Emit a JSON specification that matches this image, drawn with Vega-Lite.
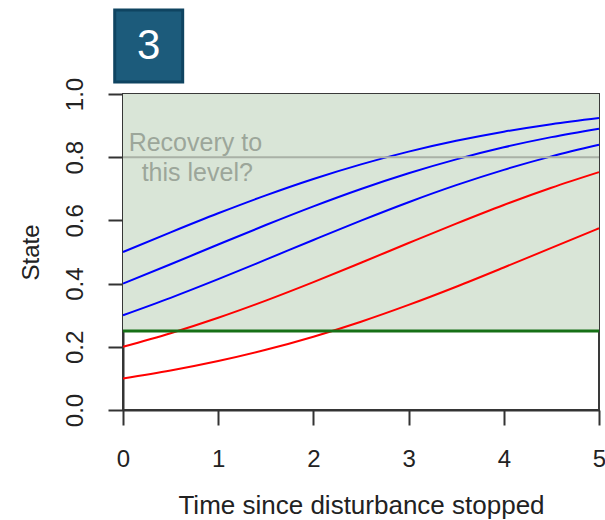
{
  "$schema": "https://vega.github.io/schema/vega-lite/v6.json",
  "width": 476,
  "height": 316,
  "autosize": {"type": "none"},
  "padding": {"left": 123, "top": 94, "right": 6, "bottom": 110},
  "background": "#ffffff",
  "config": {
    "font": "Liberation Sans",
    "view": {"stroke": "#3a3a3a", "strokeWidth": 2},
    "axis": {
      "grid": false,
      "domainColor": "#333333",
      "domainWidth": 2,
      "tickColor": "#333333",
      "tickWidth": 2,
      "tickSize": 15,
      "labelFont": "Liberation Sans",
      "labelFontSize": 24,
      "labelColor": "#222222",
      "titleFont": "Liberation Sans",
      "titleFontSize": 26,
      "titleFontWeight": "normal",
      "titleColor": "#222222"
    }
  },
  "datasets": {
    "trajectories": [
      {"t": 0, "state": 0.5, "path": "p50", "side": "above"},
      {"t": 0.5, "state": 0.5622, "path": "p50", "side": "above"},
      {"t": 1, "state": 0.6225, "path": "p50", "side": "above"},
      {"t": 1.5, "state": 0.6792, "path": "p50", "side": "above"},
      {"t": 2, "state": 0.7311, "path": "p50", "side": "above"},
      {"t": 2.5, "state": 0.7773, "path": "p50", "side": "above"},
      {"t": 3, "state": 0.8176, "path": "p50", "side": "above"},
      {"t": 3.5, "state": 0.8519, "path": "p50", "side": "above"},
      {"t": 4, "state": 0.8808, "path": "p50", "side": "above"},
      {"t": 4.5, "state": 0.9046, "path": "p50", "side": "above"},
      {"t": 5, "state": 0.9241, "path": "p50", "side": "above"},
      {"t": 0, "state": 0.4, "path": "p40", "side": "above"},
      {"t": 0.5, "state": 0.4612, "path": "p40", "side": "above"},
      {"t": 1, "state": 0.5236, "path": "p40", "side": "above"},
      {"t": 1.5, "state": 0.5853, "path": "p40", "side": "above"},
      {"t": 2, "state": 0.6444, "path": "p40", "side": "above"},
      {"t": 2.5, "state": 0.6994, "path": "p40", "side": "above"},
      {"t": 3, "state": 0.7492, "path": "p40", "side": "above"},
      {"t": 3.5, "state": 0.7932, "path": "p40", "side": "above"},
      {"t": 4, "state": 0.8313, "path": "p40", "side": "above"},
      {"t": 4.5, "state": 0.8635, "path": "p40", "side": "above"},
      {"t": 5, "state": 0.8903, "path": "p40", "side": "above"},
      {"t": 0, "state": 0.3, "path": "p30", "side": "above"},
      {"t": 0.5, "state": 0.355, "path": "p30", "side": "above"},
      {"t": 1, "state": 0.414, "path": "p30", "side": "above"},
      {"t": 1.5, "state": 0.4757, "path": "p30", "side": "above"},
      {"t": 2, "state": 0.5381, "path": "p30", "side": "above"},
      {"t": 2.5, "state": 0.5993, "path": "p30", "side": "above"},
      {"t": 3, "state": 0.6576, "path": "p30", "side": "above"},
      {"t": 3.5, "state": 0.7115, "path": "p30", "side": "above"},
      {"t": 4, "state": 0.76, "path": "p30", "side": "above"},
      {"t": 4.5, "state": 0.8026, "path": "p30", "side": "above"},
      {"t": 5, "state": 0.8392, "path": "p30", "side": "above"},
      {"t": 0, "state": 0.2, "path": "p20", "side": "below"},
      {"t": 0.5, "state": 0.243, "path": "p20", "side": "below"},
      {"t": 1, "state": 0.2919, "path": "p20", "side": "below"},
      {"t": 1.5, "state": 0.3461, "path": "p20", "side": "below"},
      {"t": 2, "state": 0.4046, "path": "p20", "side": "below"},
      {"t": 2.5, "state": 0.466, "path": "p20", "side": "below"},
      {"t": 3, "state": 0.5284, "path": "p20", "side": "below"},
      {"t": 3.5, "state": 0.5899, "path": "p20", "side": "below"},
      {"t": 4, "state": 0.6489, "path": "p20", "side": "below"},
      {"t": 4.5, "state": 0.7034, "path": "p20", "side": "below"},
      {"t": 5, "state": 0.7528, "path": "p20", "side": "below"},
      {"t": 0, "state": 0.1, "path": "p10", "side": "below"},
      {"t": 0.5, "state": 0.1249, "path": "p10", "side": "below"},
      {"t": 1, "state": 0.1548, "path": "p10", "side": "below"},
      {"t": 1.5, "state": 0.1904, "path": "p10", "side": "below"},
      {"t": 2, "state": 0.232, "path": "p10", "side": "below"},
      {"t": 2.5, "state": 0.2794, "path": "p10", "side": "below"},
      {"t": 3, "state": 0.3325, "path": "p10", "side": "below"},
      {"t": 3.5, "state": 0.39, "path": "p10", "side": "below"},
      {"t": 4, "state": 0.4509, "path": "p10", "side": "below"},
      {"t": 4.5, "state": 0.5132, "path": "p10", "side": "below"},
      {"t": 5, "state": 0.5751, "path": "p10", "side": "below"}
    ],
    "notes": [
      {"label": "Recovery to", "t": 0.76, "state": 0.845},
      {"label": "this level?", "t": 0.78, "state": 0.75}
    ]
  },
  "layer": [
    {
      "data": {"values": [{}]},
      "mark": {"type": "rect", "color": "#d9e5d7"},
      "encoding": {
        "x": {"datum": 0, "type": "quantitative"},
        "x2": {"datum": 5},
        "y": {"datum": 0.25, "type": "quantitative"},
        "y2": {"datum": 1}
      }
    },
    {
      "data": {"name": "trajectories"},
      "mark": {"type": "line", "strokeWidth": 2, "interpolate": "monotone"},
      "encoding": {
        "x": {
          "field": "t",
          "type": "quantitative",
          "scale": {"domain": [0, 5], "nice": false, "zero": false},
          "axis": {
            "title": "Time since disturbance stopped",
            "values": [0, 1, 2, 3, 4, 5],
            "format": "d",
            "labelPadding": 22,
            "titlePadding": 21,
            "labelFlush": false
          }
        },
        "y": {
          "field": "state",
          "type": "quantitative",
          "scale": {"domain": [0, 1], "nice": false},
          "axis": {
            "title": "State",
            "values": [0, 0.2, 0.4, 0.6, 0.8, 1],
            "format": ".1f",
            "labelAngle": 270,
            "labelAlign": "center",
            "labelBaseline": "alphabetic",
            "labelPadding": 26,
            "labelFlush": false,
            "titleFontSize": 24,
            "titlePadding": 20
          }
        },
        "detail": {"field": "path"},
        "color": {
          "field": "side",
          "type": "nominal",
          "scale": {"domain": ["above", "below"], "range": ["#0000ff", "#ff0000"]},
          "legend": null
        }
      }
    },
    {
      "data": {"values": [{}]},
      "mark": {"type": "rule", "color": "#a9b1a6", "strokeWidth": 2},
      "encoding": {"y": {"datum": 0.8, "type": "quantitative"}}
    },
    {
      "data": {"values": [{}]},
      "mark": {"type": "rule", "color": "#167016", "strokeWidth": 3},
      "encoding": {"y": {"datum": 0.25, "type": "quantitative"}}
    },
    {
      "data": {"name": "notes"},
      "mark": {"type": "text", "fontSize": 25, "color": "#9ca69a", "baseline": "middle", "align": "center"},
      "encoding": {
        "x": {"field": "t", "type": "quantitative"},
        "y": {"field": "state", "type": "quantitative"},
        "text": {"field": "label"}
      }
    },
    {
      "data": {"values": [{}]},
      "mark": {"type": "rect", "fill": "#1c5b7b", "stroke": "#0f4461", "strokeWidth": 3, "clip": false},
      "encoding": {
        "x": {"datum": -0.087, "type": "quantitative"},
        "x2": {"datum": 0.627},
        "y": {"datum": 1.038, "type": "quantitative"},
        "y2": {"datum": 1.266}
      }
    },
    {
      "data": {"values": [{"label": "3"}]},
      "mark": {"type": "text", "fontSize": 42, "color": "#ffffff", "baseline": "middle", "align": "center"},
      "encoding": {
        "x": {"datum": 0.27, "type": "quantitative"},
        "y": {"datum": 1.152, "type": "quantitative"},
        "text": {"field": "label"}
      }
    }
  ]
}
